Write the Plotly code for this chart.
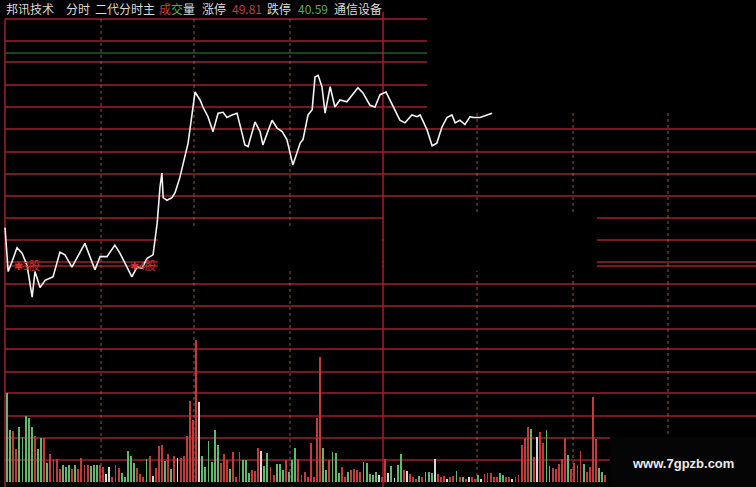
import plotly.graph_objects as go

W, H = 756, 487

# ---------------- data ----------------
# intraday price line (minute since open, price)
price_minutes = [0, 1.0, 2.2, 3.8, 5.4, 7.0, 8.6, 9.5, 11.1, 12.7, 15.2, 17.4, 19.0, 21.2, 25.3, 28.5,
                 30.1, 32.3, 34.8, 36.4, 40.2, 41.8, 43.4, 45.0, 46.9, 48.2, 49.1, 49.7, 50.1, 51.3,
                 52.9, 53.9, 55.4, 56.4, 58.0, 60.2, 61.8, 62.7, 64.3, 65.9, 67.5, 69.1, 70.3, 71.9,
                 73.5, 75.1, 76.0, 77.0, 79.2, 80.8, 81.7, 84.6, 86.2, 87.8, 89.3, 91.2, 93.5, 94.4,
                 96.0, 97.3, 98.2, 99.2, 100.4, 101.4, 103.0, 104.5, 106.1, 108.3, 111.8, 113.4,
                 115.6, 117.2, 118.8, 120.7, 122.9, 125.1, 126.7, 128.9, 130.5, 131.5, 133.7, 135.3,
                 136.8, 138.4, 140.0, 141.6, 142.6, 144.1, 145.7, 147.3, 148.3, 150.5, 152.7, 154.3]
prices = [45.63, 45.13, 45.24, 45.40, 45.34, 45.20, 44.84, 45.13, 44.95, 45.03, 45.07, 45.35, 45.32,
          45.18, 45.45, 45.15, 45.30, 45.30, 45.43, 45.34, 45.07, 45.18, 45.17, 45.28, 45.32, 45.68,
          46.09, 46.25, 45.97, 45.94, 45.97, 46.03, 46.20, 46.34, 46.59, 47.17, 47.08, 47.00, 46.89,
          46.72, 46.93, 46.94, 46.88, 46.91, 46.93, 46.70, 46.57, 46.55, 46.83, 46.72, 46.57, 46.85,
          46.76, 46.72, 46.63, 46.34, 46.59, 46.63, 46.91, 46.97, 47.34, 47.36, 47.23, 46.93, 47.23,
          47.00, 47.08, 47.06, 47.22, 47.16, 47.02, 47.00, 47.14, 47.17, 47.00, 46.85, 46.82, 46.91,
          46.89, 46.91, 46.74, 46.56, 46.59, 46.77, 46.88, 46.91, 46.82, 46.85, 46.80, 46.89, 46.88,
          46.88, 46.91, 46.93]

# per-minute volume bars and their colours (r = up, g = down, w = flat)
volumes = [89, 52, 51, 33, 55, 45, 66, 64, 55, 46, 33, 44, 44, 19, 28, 23, 23, 13, 17, 15,
           17, 13, 17, 13, 24, 17, 17, 16, 17, 17, 17, 15, 8, 15, 5, 17, 14, 9, 5, 31,
           26, 19, 14, 8, 5, 23, 26, 6, 14, 36, 37, 21, 28, 13, 26, 24, 24, 26, 46, 81,
           62, 142, 80, 26,
           15, 41, 20, 52, 37, 19, 28, 22, 13, 30, 5, 30, 22, 22, 9, 12, 11, 34, 31, 16,
           29, 15, 7, 18, 18, 12, 22, 10, 22, 34, 23, 7, 10, 5, 39, 5, 64, 125, 34, 12,
           22, 30, 29, 9, 15, 5, 10, 12, 13, 12, 10, 20, 19, 8, 7, 10, 7, 5, 23, 9,
           16, 4, 17, 28, 12,
           11, 8, 5, 3, 6, 5, 10, 10, 9, 23, 8, 5, 6, 3, 5, 6, 11, 5, 5, 3,
           5, 5, 3, 7, 3, 8, 9, 9, 5, 5, 9, 7, 5, 5, 3, 5, 7, 37, 44, 55,
           53, 25, 45, 50, 39, 52, 16, 14, 13, 18, 23, 44, 27, 13, 19, 17, 31, 18, 10, 15,
           85, 43, 14, 10, 7]
vol_dirs = list("ggrrgggggr" "ggrgrrrrgg" "grgrrrrggg" "rrwwrrrggg" "ggrrrgrwrr" "rgrgrwrrrr" "rrwg"
                "gggggrrrgr" "rrgggrrrwg" "grrgggrggg" "rrrrrrrrgg" "rgggrrgrrr" "rggggg" "wrrw" "gwggr"
                "wrrrgrgggw" "rrrwrrgrgr" "wrrgwrrrrr" "ggrrwrrrrr" "grwrrggrrr" "rrgrrrrgrr" "rrggr")

header = ["邦讯技术", "分时", "二代分时主", "成", "交", "量", "涨停", "49.81", "跌停", "40.59", "通信设备"]
marks = ["✱3股", "✱4股"]

# ---------------- styling helpers ----------------
RED = "#a21f2c"
COLMAP = {"r": "#c23a3a", "g": "#62b86a", "w": "#d8d8d8"}
bar_colors = [COLMAP[c] for c in vol_dirs]

def px(x):
    return x / W

def py(y):
    return 1 - y / H

shapes = []

def hline(y, x0, x1, color=RED, width=1.5):
    shapes.append(dict(type="line", xref="paper", yref="paper", x0=px(x0), x1=px(x1),
                       y0=py(y), y1=py(y), line=dict(color=color, width=width), layer="below"))

def vline(x, y0, y1, color=RED, width=1.5, dash="solid"):
    shapes.append(dict(type="line", xref="paper", yref="paper", x0=px(x), x1=px(x),
                       y0=py(y0), y1=py(y1), line=dict(color=color, width=width, dash=dash),
                       layer="below"))

def rect(x0, y0, x1, y1, color, layer="below"):
    shapes.append(dict(type="rect", xref="paper", yref="paper", x0=px(x0), x1=px(x1),
                       y0=py(y1), y1=py(y0), fillcolor=color, line=dict(width=0), layer=layer))

for y in [19, 41, 62, 85, 107]:
    hline(y, 5, 427)
hline(53, 5, 427, color="#2f8a3c", width=1.2)
for y in [129, 152, 174, 196, 218, 240, 262, 266, 284, 306, 329, 349, 372, 393, 416, 438, 460]:
    hline(y, 5, W)

vline(5, 19, H, width=1.5)
vline(383, 12, H, width=1.5)
for x in [101, 194, 290]:
    vline(x, 19, 482, color="rgba(190,110,110,0.75)", width=1, dash="dot")
for x in [477, 573, 668]:
    vline(x, 113, 482, color="rgba(190,110,110,0.75)", width=1, dash="dot")

# blanked regions of the original screenshot
rect(158, 228, 382, 271, "#000000")
rect(384, 215, 597, 271, "#000000")
# watermark box
rect(610, 437, W, H, "#050505", layer="above")

fig = go.Figure()

fig.add_trace(go.Bar(x=list(range(len(volumes))), y=volumes, marker=dict(color=bar_colors, line=dict(width=0)),
                     width=0.6, xaxis="x2", yaxis="y2", hoverinfo="skip"))
fig.add_trace(go.Scatter(x=price_minutes, y=prices, mode="lines",
                         line=dict(color="#f2f2f2", width=1.6), xaxis="x", yaxis="y", hoverinfo="skip"))

annotations = []
hx = [4, 64, 93, 157, 169, 181, 200, 230, 265, 296, 332]
hcol = ["#dcdcdc", "#dcdcdc", "#dcdcdc", "#c84040", "#4fae55", "#dcdcdc", "#dcdcdc", "#b84040",
        "#dcdcdc", "#5cae5c", "#dcdcdc"]
for t, x, c in zip(header, hx, hcol):
    annotations.append(dict(text=t, x=px(x), y=py(9), xref="paper", yref="paper", xanchor="left",
                            yanchor="middle", showarrow=False,
                            font=dict(family="Noto Sans CJK SC", size=12, color=c)))
for t, x in zip(marks, [12, 128]):
    annotations.append(dict(text=t, x=px(x), y=py(265), xref="paper", yref="paper", xanchor="left",
                            yanchor="middle", showarrow=False,
                            font=dict(family="Noto Sans CJK SC", size=11, color="#d83030")))
annotations.append(dict(text="<b>www.7gpzb.com</b>", x=px(683), y=py(463), xref="paper", yref="paper",
                        xanchor="center", yanchor="middle", showarrow=False,
                        font=dict(family="Liberation Sans", size=13, color="#ececec")))

axis_off = dict(visible=False, showgrid=False, zeroline=False, fixedrange=True)
fig.update_layout(
    width=W, height=H,
    margin=dict(l=0, r=0, t=0, b=0),
    paper_bgcolor="#000000", plot_bgcolor="#000000",
    showlegend=False,
    xaxis=dict(range=[-1.584, 237.9], domain=[0, 1], **axis_off),
    yaxis=dict(range=[42.682, 48.216], domain=[0, 1], **axis_off),
    xaxis2=dict(range=[-2.258, 241.6], domain=[0, 1], overlaying="x", anchor="y2", **axis_off),
    yaxis2=dict(range=[-5, 482], domain=[0, 1], overlaying="y", anchor="x2", **axis_off),
    shapes=shapes,
    annotations=annotations,
    bargap=0,
)

fig.write_html("out.html", config={"staticPlot": True, "displayModeBar": False},
               post_script="document.body.style.margin='0';document.body.style.background='#000';")
